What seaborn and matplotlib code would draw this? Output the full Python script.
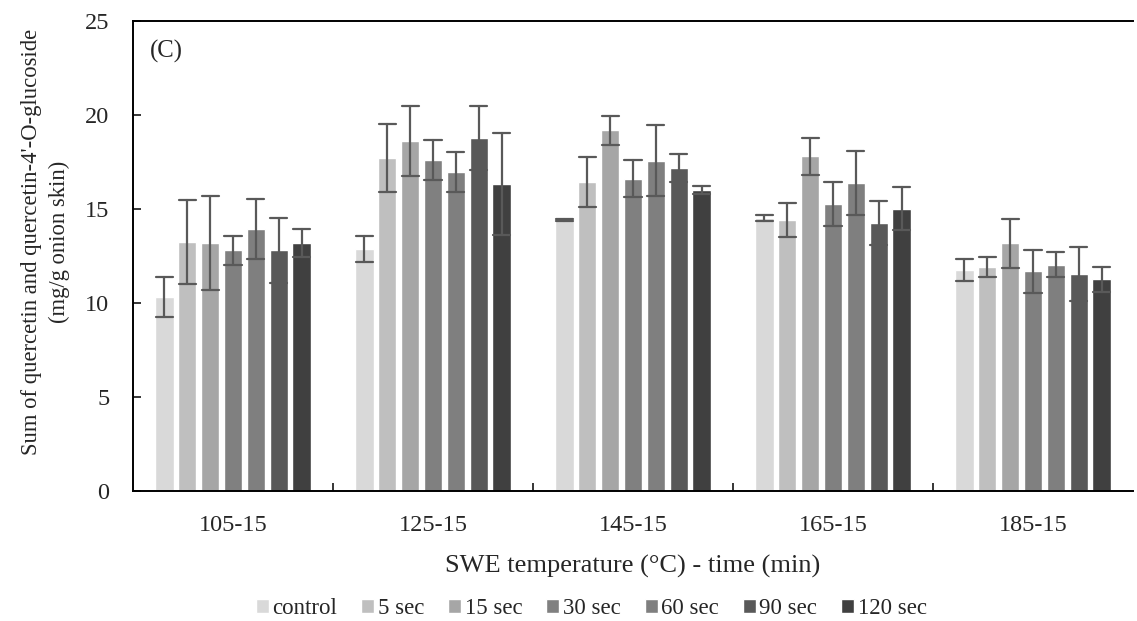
import matplotlib
matplotlib.use("Agg")
import matplotlib.pyplot as plt
import seaborn as sns
import pandas as pd
import numpy as np

categories = ["105-15", "125-15", "145-15", "165-15", "185-15"]
treatments = ["control", "5 sec", "15 sec", "30 sec", "60 sec", "90 sec", "120 sec"]

means_control = [10.32, 12.87, 14.40, 14.52, 11.74]
means_5s = [13.24, 17.71, 16.42, 14.40, 11.91]
means_15s = [13.19, 18.62, 19.18, 17.80, 13.17]
means_30s = [12.80, 17.61, 16.61, 15.25, 11.68]
means_60s = [13.94, 16.95, 17.57, 16.38, 12.04]
means_90s = [12.80, 18.76, 17.18, 14.26, 11.54]
means_120s = [13.19, 16.33, 16.01, 15.02, 11.26]

err_control = [1.05, 0.70, 0.06, 0.16, 0.59]
err_5s = [2.22, 1.82, 1.34, 0.90, 0.52]
err_15s = [2.49, 1.86, 0.78, 1.00, 1.31]
err_30s = [0.79, 1.05, 0.98, 1.18, 1.13]
err_60s = [1.59, 1.07, 1.89, 1.69, 0.67]
err_90s = [1.72, 1.70, 0.75, 1.15, 1.42]
err_120s = [0.74, 2.73, 0.22, 1.15, 0.66]

colors = ["#d9d9d9", "#bfbfbf", "#a6a6a6", "#808080", "#7f7f7f", "#595959", "#404040"]

all_means = [means_control, means_5s, means_15s, means_30s, means_60s, means_90s, means_120s]
all_errs = [err_control, err_5s, err_15s, err_30s, err_60s, err_90s, err_120s]

rows = []
for t, ms, es in zip(treatments, all_means, all_errs):
    for c, m, e in zip(categories, ms, es):
        for v in (m - e, m, m + e):
            rows.append({"cat": c, "treat": t, "val": v})
df = pd.DataFrame(rows)

sns.set_style("white")
plt.rcParams["font.family"] = ["Liberation Serif", "DejaVu Serif"]

fig = plt.figure(figsize=(11.37, 6.21), dpi=100)
ax = fig.add_axes([133 / 1137, 1 - 491 / 621, 1000 / 1137, 470 / 621])

sns.barplot(
    data=df, x="cat", y="val", hue="treat",
    order=categories, hue_order=treatments,
    palette=colors, estimator="mean",
    errorbar=lambda x: (np.min(x), np.max(x)),
    err_kws={"color": "#595959", "linewidth": 1.6},
    capsize=0.6, gap=0.2, width=0.8, ax=ax, legend=True,
    saturation=1,
)

ax.set_ylim(0, 25)
ax.set_xlim(-0.5, 4.5)
ax.set_yticks([0, 5, 10, 15, 20, 25])
ax.tick_params(axis="y", direction="in", length=6, width=1.3, labelsize=17.5, left=True, pad=17)
ax.tick_params(axis="x", which="major", length=0, labelsize=17.5, pad=17)
ax.set_xticks([0.5, 1.5, 2.5, 3.5], minor=True)
ax.tick_params(axis="x", which="minor", direction="in", length=6, width=1.3, bottom=True)

for s in ["left", "bottom", "top"]:
    ax.spines[s].set_linewidth(1.4)
    ax.spines[s].set_color("black")
ax.spines["right"].set_visible(False)

ax.set_xlabel("SWE temperature (\u00b0C) - time (min)", fontsize=19, labelpad=14)
ax.set_ylabel("Sum of quercetin and quercetin-4'-O-glucoside\n(mg/g onion skin)",
              fontsize=16.3, linespacing=1.4)
ax.yaxis.set_label_coords(-0.063, 0.53)

ax.text(0.017, 0.936, "(C)", transform=ax.transAxes, fontsize=17.8, va="center", ha="left")

handles, labels = ax.get_legend_handles_labels()
ax.get_legend().remove()
fig.legend(handles, labels, loc="center", bbox_to_anchor=(0.52, 1 - 609 / 621), ncol=7,
           frameon=False, fontsize=16.5, handlelength=0.57, handleheight=0.57,
           handletextpad=0.15, columnspacing=1.05)

fig.savefig("out.png", dpi=100)
